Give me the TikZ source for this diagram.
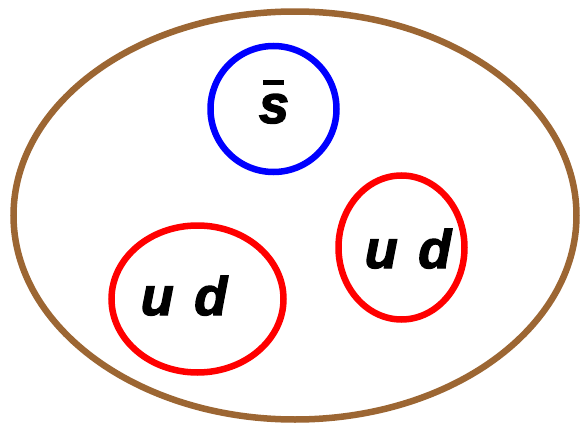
\documentclass[tikz,border=0pt]{standalone}
\usepackage{fontspec}
\setmainfont{Liberation Sans}[BoldItalicFeatures={FakeBold=2.5}]
\usepackage{tikz}
\usetikzlibrary{shapes.geometric}
\definecolor{hadronbrown}{HTML}{9C6633}
\definecolor{quarkblue}{HTML}{0000FF}
\definecolor{diquarkred}{HTML}{FF0000}

\begin{document}
\begin{tikzpicture}[x=1pt,y=-1pt,line width=6.5pt,
  ring/.style={ellipse,draw,inner sep=0pt},
  flav/.style={anchor=base,font=\fontsize{54}{60}\selectfont\bfseries\itshape}]
\useasboundingbox (0,0) rectangle (582,431);
\node[ring,draw=hadronbrown,minimum width=563pt,minimum height=408pt] (hadron) at (295,215.5) {};
\node[ring,draw=quarkblue,minimum width=126pt,minimum height=126pt] (sbar) at (273.5,109) {};
\node[ring,draw=diquarkred,minimum width=172pt,minimum height=147pt] (udleft) at (197.5,299) {};
\node[ring,draw=diquarkred,minimum width=126pt,minimum height=144pt] (udright) at (401.5,247.5) {};
\node[flav] (sbarlab) at (274,123) {\rlap{\hspace{0.08em}\raisebox{0.70em}{\rule{0.39em}{0.09em}}}s};
\node[flav] (udleftlab) at (184,315) {u\hspace{0.38em}d};
\node[flav] (udrightlab) at (408,268) {u\hspace{0.38em}d};
\end{tikzpicture}
\end{document}
